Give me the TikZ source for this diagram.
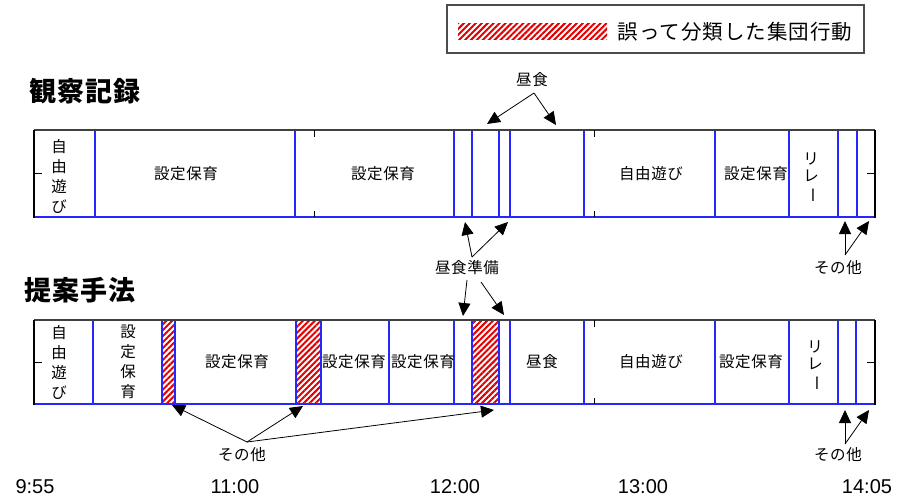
\documentclass[tikz,border=0pt]{standalone}
\usepackage{fontspec}
\usepackage{graphicx}
\usetikzlibrary{arrows.meta,patterns.meta}
\newfontfamily\jp[LetterSpace=4]{Noto Sans CJK JP}
\newfontfamily\jpl[LetterSpace=5]{Noto Sans CJK JP}
\newfontfamily\jpt[LetterSpace=4]{Noto Sans CJK JP}
\newfontfamily\num{Liberation Sans}
\newcommand{\vbar}{\rotatebox[origin=c]{-90}{ー}}
\tikzset{
  small/.style={font=\jp\fontsize{15.5}{20}\selectfont, inner sep=0pt, align=center},
  title/.style={font=\jpt\fontsize{27}{30}\selectfont\bfseries, inner sep=0pt},
  timelab/.style={font=\num\fontsize{20}{24}\selectfont, inner sep=0pt},
  div/.style={draw=blue!85!white, line width=1.1pt},
  thickdiv/.style={draw=blue!85!white, line width=2pt},
  tick/.style={draw=black, line width=1pt},
  arr/.style={draw=black, line width=0.8pt, -{Triangle[length=13pt,width=12pt]}},
  hatch/.style={pattern={Lines[angle=45,distance=4.2pt,line width=2pt]}, pattern color=red!90!black},
}
\begin{document}
\begin{tikzpicture}[x=1pt,y=-1pt]
\useasboundingbox (0,0) rectangle (910,499);
% legend
\node[draw=black!70, line width=1.5pt, minimum width=417pt, minimum height=48pt, inner sep=0pt] (legend) at (655.5,29) {};
\fill[white] (458,23) rectangle (607,39);
\path[hatch] (458,23) rectangle (607,39);
\node (legswatch) at (532.5,31) {};
\node[font=\jpl\fontsize{20.5}{22}\selectfont, inner sep=0pt] (legtext) at (735,32) {誤って分類した集団行動};
% titles
\node[title] (title1) at (85,91) {観察記録};
\node[title] (title2) at (80,290) {提案手法};
% ---------- top bar ----------
\foreach \x in {95,295,454,472,499,510,584,715,789} \draw[div] (\x,130) -- (\x,217);
\foreach \x in {838,857} \draw[thickdiv] (\x,130) -- (\x,217);
\draw[draw=black!75, line width=1.2pt] (34,130) -- (875,130);
\draw[div] (34,217) -- (875,217);
\draw[black, line width=1.2pt] (34,130) -- (34,217.5) (875,130) -- (875,217.5);
\foreach \x in {314,594} {\draw[tick] (\x,130) -- (\x,137); \draw[tick] (\x,211) -- (\x,217);}
\draw[tick] (34,173) -- (42,173);
\draw[tick] (867,173) -- (875,173);
\node[small] (a1) at (59,176) {自\\由\\遊\\び};
\node[small] (a2) at (186,174) {設定保育};
\node[small] (a3) at (383,174) {設定保育};
\node[small] (a4) at (651,174) {自由遊び};
\node[small] (a5) at (756,174) {設定保育};
\node[small, font=\jp\fontsize{15.5}{17}\selectfont] (a6) at (811,178) {リ\\レ\\\vbar};
% ---------- bottom bar ----------
\path[hatch] (162,320) rectangle (175,404);
\path[hatch] (296,320) rectangle (321,404);
\path[hatch] (472,320) rectangle (499,404);
\coordinate (h1) at (168.5,362);
\coordinate (h2) at (308.5,362);
\coordinate (h3) at (485.5,362);
\foreach \x in {93,162,175,296,321,389,454,472,499,510,584,715,789,838,856} \draw[div] (\x,320) -- (\x,404);
\draw[draw=black!75, line width=1.2pt] (34,320) -- (875,320);
\draw[div] (34,404) -- (875,404);
\draw[black, line width=1.2pt] (34,320) -- (34,404.5) (875,320) -- (875,404.5);
\draw[tick] (594,320) -- (594,327); \draw[tick] (594,398) -- (594,404);
\draw[tick] (34,362) -- (42,362);
\draw[tick] (867,362) -- (875,362);
\node[small] (b1) at (59,362) {自\\由\\遊\\び};
\node[small] (b2) at (128,362) {設\\定\\保\\育};
\node[small] (b3) at (237,362) {設定保育};
\node[small] (b4) at (354,362) {設定保育};
\node[small] (b5) at (423,362) {設定保育};
\node[small] (b6) at (542,362) {昼食};
\node[small] (b7) at (651,362) {自由遊び};
\node[small] (b8) at (751,362) {設定保育};
\node[small, font=\jp\fontsize{15.5}{17}\selectfont] (b9) at (815,366) {リ\\レ\\\vbar};
% ---------- annotations ----------
\node[small] (lunch) at (532,80) {昼食};
\coordinate (lunchS) at (534,93);
\coordinate (lunchA) at (487,124);
\coordinate (lunchB) at (556,125);
\draw[arr] (lunchS) -- (lunchA);
\draw[arr] (lunchS) -- (lunchB);

\node[small] (prep) at (467,268) {昼食準備};
\coordinate (prepU) at (472,257);
\coordinate (prepUA) at (465,222);
\coordinate (prepUB) at (508,222);
\draw[arr] (prepU) -- (prepUA);
\draw[arr] (prepU) -- (prepUB);
\coordinate (prepD1) at (467,280);
\coordinate (prepD2) at (481,282);
\coordinate (prepDA) at (463,316);
\coordinate (prepDB) at (504,315);
\draw[arr] (prepD1) -- (prepDA);
\draw[arr] (prepD2) -- (prepDB);

\node[small] (oth1) at (838,268) {その他};
\coordinate (oth1S) at (845,255);
\coordinate (oth1A) at (845,221);
\coordinate (oth1B) at (869,221);
\draw[arr] (oth1S) -- (oth1A);
\draw[arr] (oth1S) -- (oth1B);

\node[small] (oth2) at (242,455) {その他};
\coordinate (oth2S) at (247,442);
\coordinate (oth2A) at (172,405);
\coordinate (oth2B) at (303,406);
\coordinate (oth2C) at (494,410);
\draw[arr] (oth2S) -- (oth2A);
\draw[arr] (oth2S) -- (oth2B);
\draw[arr] (oth2S) -- (oth2C);

\node[small] (oth3) at (838,455) {その他};
\coordinate (oth3S) at (845,444);
\coordinate (oth3A) at (845,410);
\coordinate (oth3B) at (869,410);
\draw[arr] (oth3S) -- (oth3A);
\draw[arr] (oth3S) -- (oth3B);
% ---------- time axis ----------
\node[timelab] (t1) at (35,487) {9:55};
\node[timelab] (t2) at (235,487) {11:00};
\node[timelab] (t3) at (455,487) {12:00};
\node[timelab] (t4) at (643,487) {13:00};
\node[timelab] (t5) at (867,487) {14:05};
\end{tikzpicture}
\end{document}
